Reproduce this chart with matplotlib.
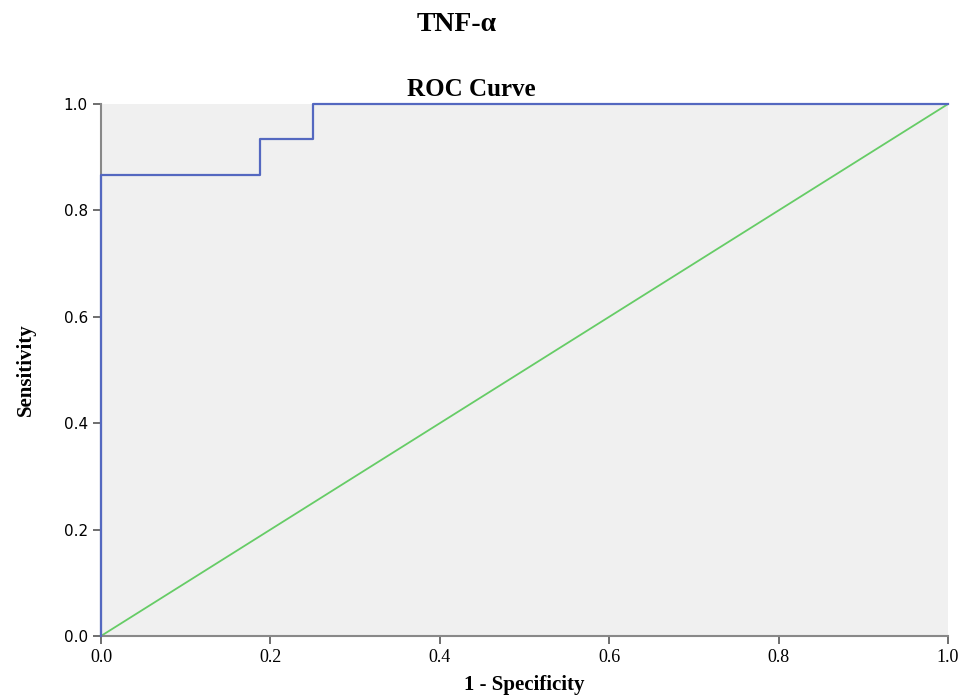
import matplotlib.pyplot as plt

# ROC curve points (1 - specificity, sensitivity)
fpr = [0.0, 0.0, 0.0, 0.1875, 0.1875, 0.25, 0.25, 1.0]
tpr = [0.0, 0.0, 0.8667, 0.8667, 0.9333, 0.9333, 1.0, 1.0]
ref_line = [0.0, 1.0]
ticks = [0.0, 0.2, 0.4, 0.6, 0.8, 1.0]
tick_labels = ["0.0", "0.2", "0.4", "0.6", "0.8", "1.0"]

fig = plt.figure(figsize=(9.67, 6.98), dpi=100)
ax = fig.add_axes([0.1044, 0.0888, 0.876, 0.7622])
ax.set_facecolor("#f0f0f0")

ax.plot(ref_line, ref_line, color="#66cc66", linewidth=1.3)
ax.plot(fpr, tpr, color="#5468c0", linewidth=1.6, zorder=5, clip_on=False)

ax.set_xlim(0, 1)
ax.set_ylim(0, 1)
ax.set_xticks(ticks)
ax.set_xticklabels(tick_labels, family="Liberation Serif", fontsize=13)
ax.set_yticks(ticks)
ax.set_yticklabels(tick_labels, family="DejaVu Sans", fontsize=11)
ax.tick_params(direction="out", length=6, width=1.2, color="#555555")

for side in ["top", "right"]:
    ax.spines[side].set_visible(False)
for side in ["left", "bottom"]:
    ax.spines[side].set_color("#888888")
    ax.spines[side].set_linewidth(1.5)

ax.set_xlabel("1 - Specificity", family="Liberation Serif", fontweight="bold", fontsize=15, labelpad=6)
ax.set_ylabel("Sensitivity", family="Liberation Serif", fontweight="bold", fontsize=15, labelpad=20)

fig.text(0.487, 0.872, "ROC Curve", family="Liberation Serif", fontweight="bold", fontsize=18,
         ha="center", va="center")
fig.text(0.472, 0.965, "TNF-α", family="Liberation Serif", fontweight="bold", fontsize=20,
         ha="center", va="center")

fig.savefig("out.png", dpi=100)
